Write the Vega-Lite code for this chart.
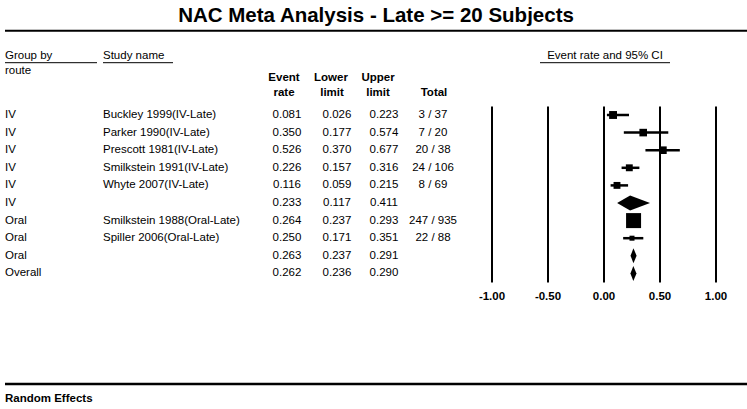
{
  "$schema": "https://vega.github.io/schema/vega-lite/v6.json",
  "width": 747,
  "height": 409,
  "autosize": {"type": "none"},
  "padding": 0,
  "background": "white",
  "config": {
    "view": {"stroke": null},
    "text": {"font": "Liberation Sans", "fontSize": 11.5, "color": "black"}
  },
  "datasets": {
    "studies": [
      {"row": 0, "group": "IV", "study": "Buckley 1999(IV-Late)", "rate": 0.081, "lower": 0.026, "upper": 0.223, "total": "3 / 37", "kind": "study", "weight": 25},
      {"row": 1, "group": "IV", "study": "Parker 1990(IV-Late)", "rate": 0.350, "lower": 0.177, "upper": 0.574, "total": "7 / 20", "kind": "study", "weight": 23},
      {"row": 2, "group": "IV", "study": "Prescott 1981(IV-Late)", "rate": 0.526, "lower": 0.370, "upper": 0.677, "total": "20 / 38", "kind": "study", "weight": 23},
      {"row": 3, "group": "IV", "study": "Smilkstein 1991(IV-Late)", "rate": 0.226, "lower": 0.157, "upper": 0.316, "total": "24 / 106", "kind": "study", "weight": 19},
      {"row": 4, "group": "IV", "study": "Whyte 2007(IV-Late)", "rate": 0.116, "lower": 0.059, "upper": 0.215, "total": "8 / 69", "kind": "study", "weight": 19},
      {"row": 5, "group": "IV", "study": "", "rate": 0.233, "lower": 0.117, "upper": 0.411, "total": "", "kind": "summary"},
      {"row": 6, "group": "Oral", "study": "Smilkstein 1988(Oral-Late)", "rate": 0.264, "lower": 0.237, "upper": 0.293, "total": "247 / 935", "kind": "study", "weight": 90},
      {"row": 7, "group": "Oral", "study": "Spiller 2006(Oral-Late)", "rate": 0.250, "lower": 0.171, "upper": 0.351, "total": "22 / 88", "kind": "study", "weight": 10},
      {"row": 8, "group": "Oral", "study": "", "rate": 0.263, "lower": 0.237, "upper": 0.291, "total": "", "kind": "summary"},
      {"row": 9, "group": "Overall", "study": "", "rate": 0.262, "lower": 0.236, "upper": 0.290, "total": "", "kind": "summary"}
    ],
    "ticks": [
      {"tick": -1, "label": "-1.00"},
      {"tick": -0.5, "label": "-0.50"},
      {"tick": 0, "label": "0.00"},
      {"tick": 0.5, "label": "0.50"},
      {"tick": 1, "label": "1.00"}
    ]
  },
  "resolve": {"scale": {"x": "independent"}},
  "layer": [
    {
      "layer": [
        {
          "data": {"name": "studies"},
          "layer": [
            {"mark": {"type": "text", "align": "left", "baseline": "middle"},
             "encoding": {
               "x": {"datum": 5, "type": "quantitative", "scale": {"domain": [0, 747], "nice": false, "zero": false}, "axis": null},
               "y": {"field": "row", "type": "quantitative", "scale": {"domain": [-6.534, 16.705], "reverse": true, "nice": false, "zero": false}, "axis": null},
               "text": {"field": "group"}}},
            {"mark": {"type": "text", "align": "left", "baseline": "middle"},
             "encoding": {"x": {"datum": 103, "type": "quantitative"}, "y": {"field": "row", "type": "quantitative"}, "text": {"field": "study"}}},
            {"mark": {"type": "text", "align": "center", "baseline": "middle"},
             "encoding": {"x": {"datum": 287, "type": "quantitative"}, "y": {"field": "row", "type": "quantitative"}, "text": {"field": "rate", "type": "quantitative", "format": ".3f"}}},
            {"mark": {"type": "text", "align": "center", "baseline": "middle"},
             "encoding": {"x": {"datum": 337, "type": "quantitative"}, "y": {"field": "row", "type": "quantitative"}, "text": {"field": "lower", "type": "quantitative", "format": ".3f"}}},
            {"mark": {"type": "text", "align": "center", "baseline": "middle"},
             "encoding": {"x": {"datum": 384, "type": "quantitative"}, "y": {"field": "row", "type": "quantitative"}, "text": {"field": "upper", "type": "quantitative", "format": ".3f"}}},
            {"mark": {"type": "text", "align": "center", "baseline": "middle"},
             "encoding": {"x": {"datum": 433, "type": "quantitative"}, "y": {"field": "row", "type": "quantitative"}, "text": {"field": "total"}}}
          ]
        },
        {
          "data": {"values": [{}]},
          "layer": [
            {"mark": {"type": "text", "text": "NAC Meta Analysis - Late >= 20 Subjects", "align": "center", "baseline": "middle", "fontSize": 20.5, "fontWeight": "bold"},
             "encoding": {"x": {"datum": 376, "type": "quantitative"}, "y": {"datum": -5.653, "type": "quantitative"}}},
            {"mark": {"type": "rule", "color": "black", "strokeWidth": 2},
             "encoding": {"x": {"datum": 5, "type": "quantitative"}, "x2": {"datum": 747}, "y": {"datum": -4.79, "type": "quantitative"}}},
            {"mark": {"type": "text", "text": "Group by", "align": "left", "baseline": "middle"},
             "encoding": {"x": {"datum": 5, "type": "quantitative"}, "y": {"datum": -3.352, "type": "quantitative"}}},
            {"mark": {"type": "text", "text": "route", "align": "left", "baseline": "middle"},
             "encoding": {"x": {"datum": 5, "type": "quantitative"}, "y": {"datum": -2.472, "type": "quantitative"}}},
            {"mark": {"type": "text", "text": "Study name", "align": "left", "baseline": "middle"},
             "encoding": {"x": {"datum": 103, "type": "quantitative"}, "y": {"datum": -3.352, "type": "quantitative"}}},
            {"mark": {"type": "text", "text": "Event rate and 95% CI", "align": "center", "baseline": "middle"},
             "encoding": {"x": {"datum": 605, "type": "quantitative"}, "y": {"datum": -3.352, "type": "quantitative"}}},
            {"mark": {"type": "rule", "color": "black", "strokeWidth": 1},
             "encoding": {"x": {"datum": 5, "type": "quantitative"}, "x2": {"datum": 97}, "y": {"datum": -2.972, "type": "quantitative"}}},
            {"mark": {"type": "rule", "color": "black", "strokeWidth": 1},
             "encoding": {"x": {"datum": 103, "type": "quantitative"}, "x2": {"datum": 173}, "y": {"datum": -2.972, "type": "quantitative"}}},
            {"mark": {"type": "rule", "color": "black", "strokeWidth": 1},
             "encoding": {"x": {"datum": 540, "type": "quantitative"}, "x2": {"datum": 670}, "y": {"datum": -2.972, "type": "quantitative"}}},
            {"mark": {"type": "text", "text": "Event", "align": "center", "baseline": "middle", "fontWeight": "bold"},
             "encoding": {"x": {"datum": 284, "type": "quantitative"}, "y": {"datum": -2.102, "type": "quantitative"}}},
            {"mark": {"type": "text", "text": "rate", "align": "center", "baseline": "middle", "fontWeight": "bold"},
             "encoding": {"x": {"datum": 284, "type": "quantitative"}, "y": {"datum": -1.25, "type": "quantitative"}}},
            {"mark": {"type": "text", "text": "Lower", "align": "center", "baseline": "middle", "fontWeight": "bold"},
             "encoding": {"x": {"datum": 331, "type": "quantitative"}, "y": {"datum": -2.102, "type": "quantitative"}}},
            {"mark": {"type": "text", "text": "limit", "align": "center", "baseline": "middle", "fontWeight": "bold"},
             "encoding": {"x": {"datum": 332, "type": "quantitative"}, "y": {"datum": -1.25, "type": "quantitative"}}},
            {"mark": {"type": "text", "text": "Upper", "align": "center", "baseline": "middle", "fontWeight": "bold"},
             "encoding": {"x": {"datum": 378, "type": "quantitative"}, "y": {"datum": -2.102, "type": "quantitative"}}},
            {"mark": {"type": "text", "text": "limit", "align": "center", "baseline": "middle", "fontWeight": "bold"},
             "encoding": {"x": {"datum": 378, "type": "quantitative"}, "y": {"datum": -1.25, "type": "quantitative"}}},
            {"mark": {"type": "text", "text": "Total", "align": "center", "baseline": "middle", "fontWeight": "bold"},
             "encoding": {"x": {"datum": 434, "type": "quantitative"}, "y": {"datum": -1.25, "type": "quantitative"}}},
            {"mark": {"type": "rule", "color": "black", "strokeWidth": 2.5},
             "encoding": {"x": {"datum": 5, "type": "quantitative"}, "x2": {"datum": 747}, "y": {"datum": 15.284, "type": "quantitative"}}},
            {"mark": {"type": "text", "text": "Random Effects", "align": "left", "baseline": "middle", "fontWeight": "bold"},
             "encoding": {"x": {"datum": 5, "type": "quantitative"}, "y": {"datum": 16.136, "type": "quantitative"}}}
          ]
        }
      ]
    },
    {
      "layer": [
        {"data": {"name": "ticks"},
         "mark": {"type": "rule", "color": "black", "strokeWidth": 2},
         "encoding": {
           "x": {"field": "tick", "type": "quantitative", "scale": {"domain": [-5.3929, 1.2768], "nice": false, "zero": false}, "axis": null},
           "y": {"datum": -0.483, "type": "quantitative"}, "y2": {"datum": 9.517}}},
        {"data": {"name": "ticks"},
         "mark": {"type": "text", "align": "center", "baseline": "middle", "fontWeight": "bold"},
         "encoding": {
           "x": {"field": "tick", "type": "quantitative"},
           "y": {"datum": 10.324, "type": "quantitative"},
           "text": {"field": "label"}}},
        {"data": {"name": "studies"},
         "transform": [{"filter": "datum.kind === 'study'"}],
         "mark": {"type": "rule", "color": "black", "strokeWidth": 2.5},
         "encoding": {"x": {"field": "lower", "type": "quantitative"}, "x2": {"field": "upper"}, "y": {"field": "row", "type": "quantitative"}}},
        {"data": {"name": "studies"},
         "transform": [{"filter": "datum.kind === 'study'"}],
         "mark": {"type": "point", "shape": "square", "filled": true, "color": "black", "opacity": 1},
         "encoding": {
           "x": {"field": "rate", "type": "quantitative"},
           "y": {"field": "row", "type": "quantitative"},
           "size": {"field": "weight", "type": "quantitative", "scale": {"domain": [0, 100], "range": [0, 250]}, "legend": null}}},
        {"data": {"name": "studies"},
         "transform": [
           {"filter": "datum.kind === 'summary'"},
           {"fold": ["lower", "rate", "upper"], "as": ["vertex", "xv"]},
           {"calculate": "datum.vertex === 'rate' ? 0.426 : 0", "as": "half"},
           {"calculate": "datum.row - datum.half", "as": "ytop"},
           {"calculate": "datum.row + datum.half", "as": "ybot"}
         ],
         "mark": {"type": "area", "color": "black", "opacity": 1, "orient": "vertical"},
         "encoding": {
           "x": {"field": "xv", "type": "quantitative"},
           "y": {"field": "ytop", "type": "quantitative"},
           "y2": {"field": "ybot"},
           "detail": {"field": "row", "type": "nominal"}}}
      ]
    }
  ]
}
